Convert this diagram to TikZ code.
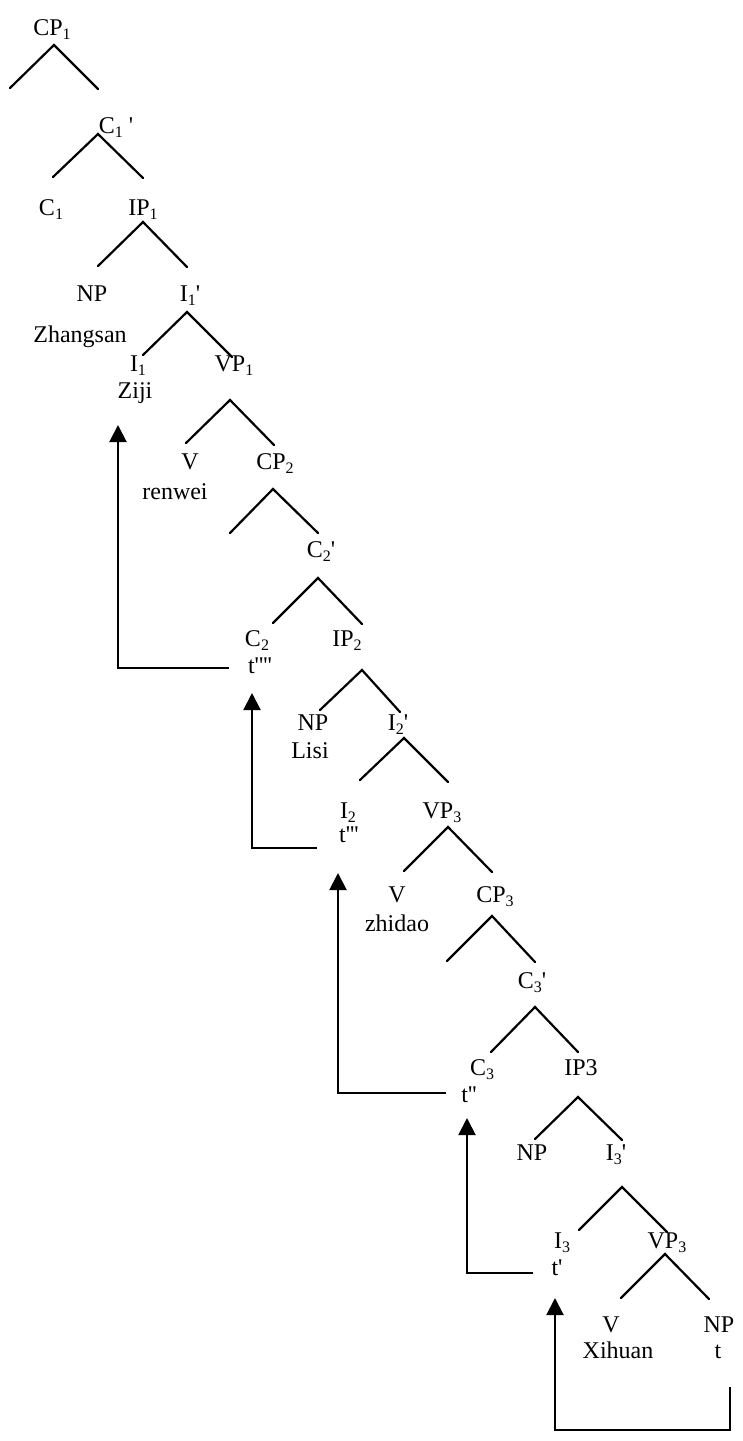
\documentclass[tikz,border=0pt]{standalone}
\usepackage{fontspec}
\setmainfont{Liberation Serif}[Ligatures=TeXOff]
\usetikzlibrary{arrows.meta}
\newcommand\sbs[1]{\raisebox{-4pt}{\fontsize{16}{16}\selectfont #1}}
\begin{document}
\begin{tikzpicture}[x=1pt,y=-1pt,
  lbl/.style={anchor=base,inner sep=0pt,font=\fontsize{24}{28}\selectfont},
  br/.style={line width=2.2pt,line cap=round},
  mv/.style={line width=2pt,-{Triangle[width=17pt,length=17pt]}}]
\useasboundingbox[fill=white] (0,0) rectangle (742,1441);
% labels
\node[lbl] (cp1) at (52,35) {CP\sbs{1}};
\node[lbl] (c1b) at (116,133) {C\sbs{1} '};
\node[lbl] (c1) at (51,215) {C\sbs{1}};
\node[lbl] (ip1) at (143,215) {IP\sbs{1}};
\node[lbl] (np1) at (92,301) {NP};
\node[lbl] (i1b) at (190,301) {I\sbs{1}'};
\node[lbl] (zs) at (80,342) {Zhangsan};
\node[lbl] (i1) at (138,371) {I\sbs{1}};
\node[lbl] (vp1) at (234,371) {VP\sbs{1}};
\node[lbl] (ziji) at (135,398) {Ziji};
\node[lbl] (v1) at (190,469) {V};
\node[lbl] (cp2) at (275,469) {CP\sbs{2}};
\node[lbl] (renwei) at (175,499) {renwei};
\node[lbl] (c2b) at (321,557) {C\sbs{2}'};
\node[lbl] (c2) at (257,646) {C\sbs{2}};
\node[lbl] (ip2) at (347,646) {IP\sbs{2}};
\node[lbl] (tfour) at (260,673) {t''''};
\node[lbl] (np2) at (313,730) {NP};
\node[lbl] (i2b) at (398,730) {I\sbs{2}'};
\node[lbl] (lisi) at (310,758) {Lisi};
\node[lbl] (i2) at (348,818) {I\sbs{2}};
\node[lbl] (vp2) at (442,818) {VP\sbs{3}};
\node[lbl] (tthree) at (349,842) {t'''};
\node[lbl] (v2) at (397,902) {V};
\node[lbl] (cp3) at (495,902) {CP\sbs{3}};
\node[lbl] (zhidao) at (397,931) {zhidao};
\node[lbl] (c3b) at (532,988) {C\sbs{3}'};
\node[lbl] (c3) at (482,1075) {C\sbs{3}};
\node[lbl] (ip3) at (581,1075) {IP3};
\node[lbl] (ttwo) at (469,1102) {t''};
\node[lbl] (np3) at (532,1160) {NP};
\node[lbl] (i3b) at (616,1160) {I\sbs{3}'};
\node[lbl] (i3) at (562,1248) {I\sbs{3}};
\node[lbl] (vp3) at (667,1248) {VP\sbs{3}};
\node[lbl] (tone) at (557,1275) {t'};
\node[lbl] (v3) at (611,1332) {V};
\node[lbl] (np4) at (719,1332) {NP};
\node[lbl] (xihuan) at (618,1358) {Xihuan};
\node[lbl] (tzero) at (718,1358) {t};
% branches
\foreach \n/\ax/\ay/\lx/\ly/\rx/\ry in {
  a/54/45/10/88/98/89,
  b/98/134/53/177/143/178,
  c/143/222/98/266/187/267,
  d/187/312/143/355/232/357,
  e/230/400/186/443/274/445,
  f/273/489/230/533/318/533,
  g/318/578/273/623/362/624,
  h/362/670/320/710/400/712,
  i/404/738/360/780/448/782,
  j/448/827/404/871/492/872,
  k/492/916/447/961/535/962,
  l/535/1007/491/1052/578/1052,
  m/578/1097/535/1139/622/1140,
  n/622/1187/579/1230/667/1232,
  o/665/1254/621/1298/709/1299}{
  \coordinate (br\n) at (\ax,\ay);
  \coordinate (br\n L) at (\lx,\ly);
  \coordinate (br\n R) at (\rx,\ry);
  \draw[br] (br\n L) -- (br\n) -- (br\n R);
}
% movement arrows
\coordinate (m1s) at (229,668); \coordinate (m1c) at (118,668); \coordinate (m1e) at (118,425);
\draw[mv] (m1s) -- (m1c) -- (m1e);
\coordinate (m2s) at (317,848); \coordinate (m2c) at (252,848); \coordinate (m2e) at (252,693);
\draw[mv] (m2s) -- (m2c) -- (m2e);
\coordinate (m3s) at (446,1093); \coordinate (m3c) at (338,1093); \coordinate (m3e) at (338,873);
\draw[mv] (m3s) -- (m3c) -- (m3e);
\coordinate (m4s) at (533,1273); \coordinate (m4c) at (467,1273); \coordinate (m4e) at (467,1118);
\draw[mv] (m4s) -- (m4c) -- (m4e);
\coordinate (m5s) at (730,1387); \coordinate (m5a) at (730,1430); \coordinate (m5c) at (555,1430); \coordinate (m5e) at (555,1298);
\draw[mv] (m5s) -- (m5a) -- (m5c) -- (m5e);
\end{tikzpicture}
\end{document}
